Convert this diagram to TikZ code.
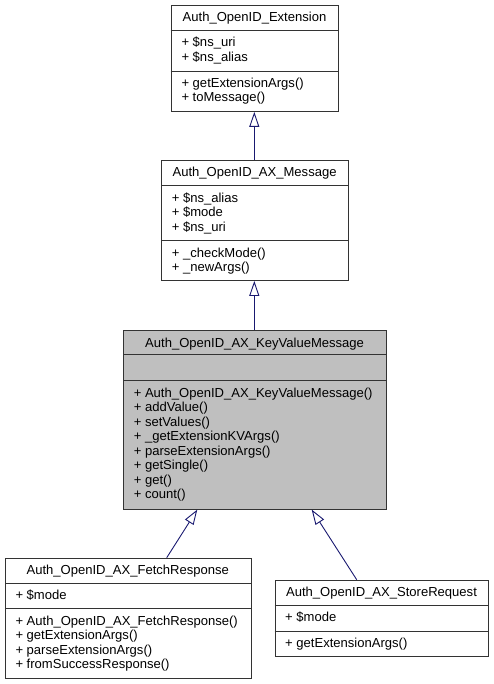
\documentclass[tikz,border=0pt]{standalone}
\usepackage{fontspec}
\setmainfont{Liberation Sans}
\usetikzlibrary{arrows.meta}
\definecolor{edgeblue}{HTML}{191970}
\definecolor{boxgray}{HTML}{BFBFBF}
\definecolor{boxline}{HTML}{333333}
\tikzset{
  cls/.style={draw=boxline, line width=0.9pt, inner sep=0pt, anchor=north west, fill=white},
  clsgray/.style={cls, fill=boxgray},
  sepline/.style={draw=boxline, line width=0.9pt},
  ttl/.style={anchor=base, inner sep=0pt, font=\fontsize{13.05}{14.5}\selectfont},
  mem/.style={anchor=base west, inner sep=0pt, font=\fontsize{13.05}{14.5}\selectfont},
  inh/.style={draw=edgeblue, line width=0.9pt, -{Triangle[open, length=15pt, width=10pt, fill=white]}}
}
\begin{document}
\begin{tikzpicture}[x=1pt, y=-1pt]
\useasboundingbox (0,0) rectangle (493,684);

% ---- Auth_OpenID_Extension
\node[cls, minimum width=167.6pt, minimum height=106pt] (ext) at (170.7,5) {};
\draw[sepline] (170.7,30) -- (338.3,30);
\draw[sepline] (170.7,71) -- (338.3,71);
\node[ttl] (extT) at (254.5,22) {Auth\_OpenID\_Extension};
\node[mem] (extA1) at (181.3,46.7) {+ \$ns\_uri};
\node[mem] (extA2) at (181.3,61.2) {+ \$ns\_alias};
\node[mem] (extM1) at (181.3,87.3) {+ getExtensionArgs()};
\node[mem] (extM2) at (181.3,101.8) {+ toMessage()};

% ---- Auth_OpenID_AX_Message
\node[cls, minimum width=187.3pt, minimum height=120pt] (msg) at (161,160) {};
\draw[sepline] (161,185.7) -- (348.3,185.7);
\draw[sepline] (161,240.7) -- (348.3,240.7);
\node[ttl] (msgT) at (254.6,177) {Auth\_OpenID\_AX\_Message};
\node[mem] (msgA1) at (171.6,202.2) {+ \$ns\_alias};
\node[mem] (msgA2) at (171.6,216.7) {+ \$mode};
\node[mem] (msgA3) at (171.6,231.2) {+ \$ns\_uri};
\node[mem] (msgM1) at (171.6,257.2) {+ \_checkMode()};
\node[mem] (msgM2) at (171.6,271.7) {+ \_newArgs()};

% ---- Auth_OpenID_AX_KeyValueMessage
\node[clsgray, minimum width=262.7pt, minimum height=178.7pt] (kvm) at (123.3,330) {};
\draw[sepline] (123.3,354.7) -- (386,354.7);
\draw[sepline] (123.3,380.7) -- (386,380.7);
\node[ttl] (kvmT) at (254.6,347) {Auth\_OpenID\_AX\_KeyValueMessage};
\node[mem] (kvmM1) at (133.6,397.2) {+ Auth\_OpenID\_AX\_KeyValueMessage()};
\node[mem] (kvmM2) at (133.6,411.7) {+ addValue()};
\node[mem] (kvmM3) at (133.6,426.2) {+ setValues()};
\node[mem] (kvmM4) at (133.6,440.7) {+ \_getExtensionKVArgs()};
\node[mem] (kvmM5) at (133.6,455.2) {+ parseExtensionArgs()};
\node[mem] (kvmM6) at (133.6,469.7) {+ getSingle()};
\node[mem] (kvmM7) at (133.6,484.2) {+ get()};
\node[mem] (kvmM8) at (133.6,498.7) {+ count()};

% ---- Auth_OpenID_AX_FetchResponse
\node[cls, minimum width=245.7pt, minimum height=120.6pt] (fetch) at (5,557.7) {};
\draw[sepline] (5,583.3) -- (250.7,583.3);
\draw[sepline] (5,608.7) -- (250.7,608.7);
\node[ttl] (fetchT) at (127.8,574.7) {Auth\_OpenID\_AX\_FetchResponse};
\node[mem] (fetchA1) at (15.3,599.3) {+ \$mode};
\node[mem] (fetchM1) at (15.3,625.1) {+ Auth\_OpenID\_AX\_FetchResponse()};
\node[mem] (fetchM2) at (15.3,639.6) {+ getExtensionArgs()};
\node[mem] (fetchM3) at (15.3,654.1) {+ parseExtensionArgs()};
\node[mem] (fetchM4) at (15.3,668.6) {+ fromSuccessResponse()};

% ---- Auth_OpenID_AX_StoreRequest
\node[cls, minimum width=213.6pt, minimum height=76.3pt] (store) at (274.7,579.7) {};
\draw[sepline] (274.7,605) -- (488.3,605);
\draw[sepline] (274.7,631) -- (488.3,631);
\node[ttl] (storeT) at (381.5,596.7) {Auth\_OpenID\_AX\_StoreRequest};
\node[mem] (storeA1) at (285,621) {+ \$mode};
\node[mem] (storeM1) at (285,647.3) {+ getExtensionArgs()};

% ---- inheritance connectors
\draw[inh] ([xshift=93.3pt]msg.north west) -- ([xshift=83.6pt]ext.south west);
\draw[inh] ([xshift=131pt]kvm.north west) -- ([xshift=93.3pt]msg.south west);
\draw[inh] ([xshift=161.7pt]fetch.north west) -- ([xshift=74pt]kvm.south west);
\draw[inh] ([xshift=82pt]store.north west) -- ([xshift=188.4pt]kvm.south west);
\end{tikzpicture}
\end{document}
